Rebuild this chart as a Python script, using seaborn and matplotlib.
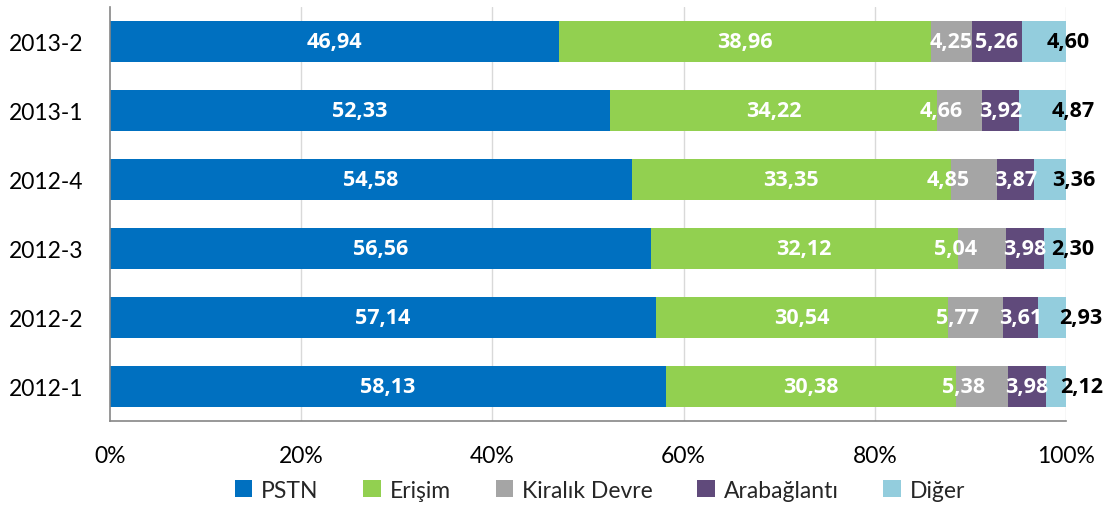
import numpy as np
import pandas as pd
import matplotlib
matplotlib.use("Agg")
import matplotlib.pyplot as plt
import seaborn as sns
from matplotlib.patches import Patch

# ---- data ----
categories = ["2013-2", "2013-1", "2012-4", "2012-3", "2012-2", "2012-1"]
series_names = ["PSTN", "Erişim", "Kiralık Devre", "Arabağlantı", "Diğer"]
pstn = [46.94, 52.33, 54.58, 56.56, 57.14, 58.13]
erisim = [38.96, 34.22, 33.35, 32.12, 30.54, 30.38]
kiralik = [4.25, 4.66, 4.85, 5.04, 5.77, 5.38]
arabaglanti = [5.26, 3.92, 3.87, 3.98, 3.61, 3.98]
diger = [4.60, 4.87, 3.36, 2.30, 2.93, 2.12]
x_ticks = [0, 20, 40, 60, 80, 100]

# ---- styles ----
colors = ["#0070C0", "#92D050", "#A5A5A5", "#604A7B", "#93CDDD"]
label_colors = ["white", "white", "white", "white", "black"]
# manual label shifts in pixels (as in the original chart)
label_shift_px = [
    [0, 0, 0, 0, 0, 0],
    [0, 0, 0, 0, 0, 0],
    [0, -19, -26, -26, -18, -18],
    [0, 0, 0, 0, 0, 0],
    [24, 30, 24, 18, 29, 26],
]

sns.set_theme(style="white")
plt.rcParams["font.family"] = ["Lato", "DejaVu Sans"]
LABEL_FONT = ["Open Sans", "DejaVu Sans"]

values = [pstn, erisim, kiralik, arabaglanti, diger]
df = pd.DataFrame({"cat": categories})
for name, vals in zip(series_names, values):
    df[name] = vals
cum = df[series_names].cumsum(axis=1)

fig = plt.figure(figsize=(11.15, 5.06), dpi=100)
ax = fig.add_axes([110 / 1115, 1 - 422 / 506, (1066 - 110) / 1115, (422 - 8) / 506])

ax.set_axisbelow(True)
for xt in x_ticks[1:]:
    ax.axvline(xt, color="#D9D9D9", lw=1, zorder=0)

# layered cumulative bars (widest first)
for i in range(len(series_names) - 1, -1, -1):
    sub = pd.DataFrame({"cat": categories, "val": cum[series_names[i]].values})
    sns.barplot(data=sub, x="val", y="cat", order=categories, orient="h",
                color=colors[i], saturation=1, width=0.58, ax=ax,
                edgecolor="none", linewidth=0, zorder=2)

# labels
for i, name in enumerate(series_names):
    for j, cat in enumerate(categories):
        v = df.loc[j, name]
        left = cum.loc[j, name] - v
        xc = left + v / 2
        txt = f"{v:.2f}".replace(".", ",")
        ax.annotate(txt, xy=(xc, j), xytext=(label_shift_px[i][j] * 0.72, 0),
                    textcoords="offset points", ha="center", va="center",
                    color=label_colors[i], fontsize=15.5, fontweight="bold",
                    family=LABEL_FONT, zorder=5, annotation_clip=False)

ax.set_xlim(0, 100)
ax.set_ylim(len(categories) - 0.5, -0.5)
ax.set_xticks(x_ticks)
ax.set_xticklabels([f"{t}%" for t in x_ticks], fontsize=16.5, color="black")
ax.set_yticks(range(len(categories)))
ax.set_yticklabels(categories, fontsize=16.5, color="black")
ax.set_xlabel("")
ax.set_ylabel("")

# Excel style ticks
ax.tick_params(axis="y", which="major", length=0, pad=19)
ax.set_yticks(np.arange(-0.5, len(categories), 1.0), minor=True)
ax.tick_params(axis="y", which="minor", length=7, color="#868686", width=1.2, direction="out")
ax.tick_params(axis="x", which="major", length=7, color="#868686", width=1.2, direction="out", pad=10)

for s in ["top", "right"]:
    ax.spines[s].set_visible(False)
for s in ["left", "bottom"]:
    ax.spines[s].set_visible(True)
    ax.spines[s].set_color("#868686")
    ax.spines[s].set_linewidth(1.2)

handles = [Patch(facecolor=c, edgecolor="none") for c in colors]
ax.legend(handles, series_names, loc="upper center", bbox_to_anchor=(0.5125, -0.12),
          ncol=5, frameon=False, fontsize=16.5, handlelength=0.75, handleheight=0.75,
          handletextpad=0.4, columnspacing=1.95, borderaxespad=0)

fig.savefig("out.png", dpi=100)
